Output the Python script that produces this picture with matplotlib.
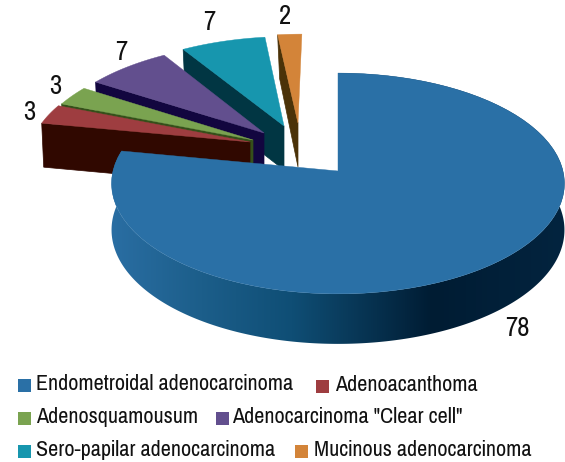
import matplotlib
matplotlib.use('Agg')
import matplotlib.pyplot as plt
import numpy as np
from matplotlib.colors import LinearSegmentedColormap
from matplotlib.patches import Polygon, Rectangle

names = ['Endometroidal adenocarcinoma', 'Adenoacanthoma', 'Adenosquamousum',
         'Adenocarcinoma "Clear cell"', 'Sero-papilar adenocarcinoma', 'Mucinous adenocarcinoma']
values = [78, 3, 3, 7, 7, 2]
value_labels = ['78', '3', '3', '7', '7', '2']

top_colors = ['#2a70a6', '#9e3d40', '#7aa350', '#624f8e', '#1796ae', '#d38439']
wall_colors = ['#0f4e75', '#300800', '#35501a', '#12063f', '#013643', '#4b3208']

# where the tip of every slice sits on the picture, in pixels
tips = [(338, 171), (250, 142), (253, 140), (264, 133), (284, 126), (298, 123)]
label_pos = [(517, 328), (29, 112), (55, 86), (121, 53), (209, 23), (285, 16)]

# square x, row y, text x
legend_pos = [(18, 385, 36), (316, 386, 335), (18, 418, 36), (216, 418, 232), (18, 451, 36), (295, 451, 314)]

# perspective of the pie
cx, cy = 338, 171
a, b, p = 109, 225, 0.113


def project(x, y):
    d = 1 + p * y
    return cx + b * x / d, cy - a * y / d


def unproject(sx, sy):
    d = cy - sy
    y = d / (a - p * d)
    x = (sx - cx) * (1 + p * y) / b
    return x, y


fig = plt.figure(figsize=(5.65, 4.62), dpi=100)
ax = fig.add_axes([0, 0, 1, 1])

edges = np.concatenate([[0], np.cumsum(values)]) / np.sum(values) * 2 * np.pi


def outline(i):
    ox, oy = unproject(*tips[i])
    t = np.linspace(edges[i], edges[i + 1], 80)
    x = np.concatenate([[ox], ox + np.sin(t)])
    y = np.concatenate([[oy], oy + np.cos(t)])
    sx, sy = project(x, y)
    return np.column_stack([sx, sy])


# small slices, from the back to the front
h = 44
for i in [5, 4, 3, 2, 1]:
    pts = outline(i)
    wall = np.array([pts[0], pts[1], pts[1] + [2, h], pts[0] + [0, h]])
    ax.add_patch(Polygon(wall, closed=True, fc=wall_colors[i], ec=wall_colors[i], lw=0.5, zorder=2))
    ax.add_patch(Polygon(pts, closed=True, fc=top_colors[i], ec=top_colors[i], lw=0.3, zorder=2))

# side of the big slice, one gradient clipped to its shape
t = np.linspace(edges[0], edges[1], 400)
sx, sy = project(np.sin(t), np.cos(t))
hh = 46 - 4 * np.cos(t)
side = np.concatenate([np.column_stack([sx, sy]), np.column_stack([sx, sy + hh])[::-1]])
side_patch = Polygon(side, closed=True, fc='none', ec='none', zorder=3)
ax.add_patch(side_patch)
stops = [(0.0, '#2a6ea3'), (0.2, '#1c5e8a'), (0.4, '#0f4e75'), (0.71, '#001c33'), (1.0, '#03243f')]
cmap = LinearSegmentedColormap.from_list('side', stops)
im = ax.imshow(np.linspace(0, 1, 256)[None, :], cmap=cmap, extent=(110, 565, 400, 60), aspect='auto', zorder=3)
im.set_clip_path(side_patch)
ax.add_patch(Polygon(outline(0), closed=True, fc=top_colors[0], ec=top_colors[0], lw=0.3, zorder=4))

font = ['Pragati Narrow', 'Archivo Narrow', 'Liberation Sans', 'DejaVu Sans']
for lab, pos in zip(value_labels, label_pos):
    ax.text(pos[0], pos[1], lab, fontsize=21, family=font, ha='center', va='center', color='#111111', zorder=5)

for name, col, pos in zip(names, top_colors, legend_pos):
    ax.add_patch(Rectangle((pos[0], pos[1] - 6.5), 13, 13, fc=col, ec='none', zorder=5))
    ax.text(pos[2], pos[1] - 1, name, fontsize=17.3, family=font, ha='left', va='center', color='#111111', zorder=5)

ax.set_xlim(0, 565)
ax.set_ylim(462, 0)
ax.axis('off')
fig.savefig('out.png', dpi=100)
